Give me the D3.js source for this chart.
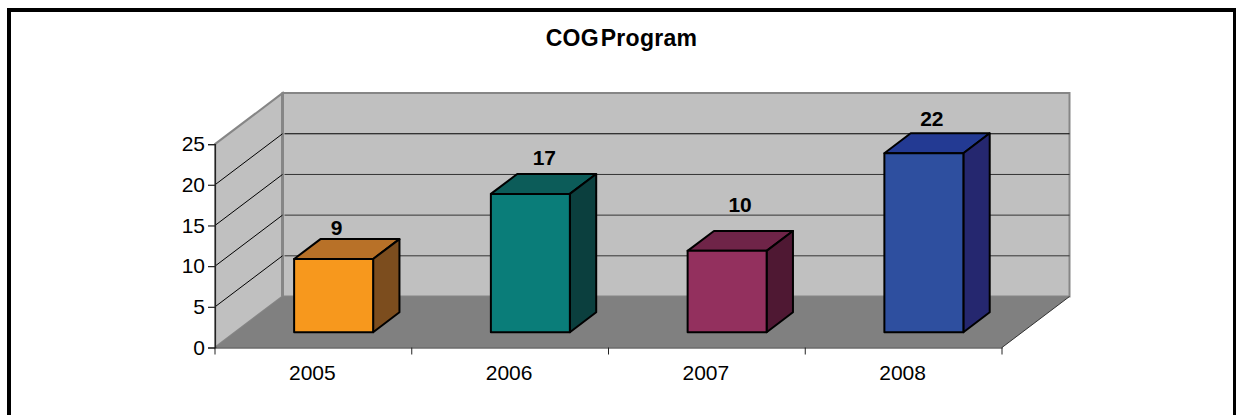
<!DOCTYPE html>
<html><head><meta charset="utf-8">
<script src="https://cdn.jsdelivr.net/npm/d3@7"></script>
<style>html,body{margin:0;padding:0;background:#fff}svg{display:block}text{font-family:"Liberation Sans",Arial,sans-serif;fill:#000}</style>
</head><body><svg id="c" width="1236" height="415"></svg>
<script>
const categories = ["2005","2006","2007","2008"];
const values = [9,17,10,22];
const yTicks = [0,5,10,15,20,25];
const frontColors = ["#F7981D","#0A7D79","#93305E","#2E4F9F"];
const topColors = ["#B87128","#0C5C59","#6F2448","#233A93"];
const sideColors = ["#7C4D1E","#0B3F3E","#4F1833","#25276F"];
const title = "COG Program";

const svg = d3.select("#c");
const x = d3.scaleBand().domain(categories).range([215,1002]);
const y = d3.scaleLinear().domain([0,25]).range([347.5,144.1]);
const depthX = d3.scaleLinear().domain([0,1]).range([0,67.5]);
const depthY = d3.scaleLinear().domain([0,1]).range([0,-51]);
const P = (px,v,d)=>[px+depthX(d), y(v)+depthY(d)];
const poly = pts => "M"+pts.map(p=>p.join(",")).join("L")+"Z";
const X0=215,X1=1002;

// frame
svg.append("path").attr("d","M9,415V10H1235V415").attr("fill","none").attr("stroke","#000").attr("stroke-width",4);

// walls
svg.append("path").attr("d",poly([P(X0,0,0),P(X0,25,0),P(X0,25,1),P(X0,0,1)])).attr("fill","#C0C0C0").attr("stroke","#868686").attr("stroke-width",2);
svg.append("path").attr("d",poly([P(X0,0,1),P(X0,25,1),P(X1,25,1),P(X1,0,1)])).attr("fill","#C0C0C0").attr("stroke","#868686").attr("stroke-width",2);
svg.append("path").attr("d",`M${P(X0,0,1)}L${P(X0,25,1)}`).attr("stroke","#868686").attr("stroke-width",3);
// gridlines
yTicks.filter(t=>t>0&&t<25).forEach(t=>{
  const a=P(X0,t,0),b=P(X0,t,1),c=P(X1,t,1);
  svg.append("path").attr("d",`M${a}L${b}`).attr("fill","none").attr("stroke","#000").attr("stroke-width",1);
  svg.append("path").attr("d",`M${[b[0]+2,b[1]]}L${c}`).attr("fill","none").attr("stroke",t===20?"#000":"#333").attr("stroke-width",1);
});
// floor
svg.append("path").attr("d",poly([P(X0,0,0),P(X1,0,0),P(X1,0,1),P(X0,0,1)])).attr("fill","#808080");
svg.append("path").attr("d",`M${P(X1,0,0)}L${P(X1,0,1)}`).attr("stroke","#333").attr("stroke-width",1);

// axes
const yAxis = d3.axisLeft(y).tickValues(yTicks).tickSize(7).tickPadding(3).tickFormat(d3.format("d"));
const gy = svg.append("g").attr("transform",`translate(${X0},0)`).call(yAxis);
const xAxis = d3.axisBottom(x).tickSize(0).tickPadding(17);
const gx = svg.append("g").attr("transform",`translate(0,${y(0)})`).call(xAxis);
gx.selectAll("text").attr("dx",-1).attr("dy","0.75em");
[gy,gx].forEach(g=>{g.selectAll("text").style("font-size","21px").style("font-family",'"Liberation Sans"').attr("fill","#111");g.selectAll(".domain,line").attr("stroke","#222").attr("stroke-width",1.2);});
gx.selectAll(".edge").data(d3.range(5)).enter().append("line").attr("class","edge")
  .attr("x1",i=>X0+i*x.step()).attr("x2",i=>X0+i*x.step()).attr("y1",0).attr("y2",7).attr("stroke","#222").attr("stroke-width",1);

// bars
const dF=0.3,dB=0.69,bw=79;
const labelNudge = [[3,-4],[14,-9],[13,-19],[8,-7]];
categories.forEach((c,i)=>{
  const v=values[i], l=x(c)+x.bandwidth()/2-bw/2, r=l+bw;
  const g=svg.append("g").attr("stroke","#000").attr("stroke-width",2).attr("stroke-linejoin","round");
  g.append("path").attr("d",poly([P(l,v,dF),P(r,v,dF),P(r,v,dB),P(l,v,dB)])).attr("fill",topColors[i]);
  g.append("path").attr("d",poly([P(r,0,dF),P(r,v,dF),P(r,v,dB),P(r,0,dB)])).attr("fill",sideColors[i]);
  g.append("path").attr("d",poly([P(l,0,dF),P(r,0,dF),P(r,v,dF),P(l,v,dF)])).attr("fill",frontColors[i]);
  const fp=P((l+r)/2,v,dF), tp=P((l+r)/2,v,dB);
  svg.append("text").attr("x",fp[0]+labelNudge[i][0]).attr("y",tp[1]+labelNudge[i][1]).attr("text-anchor","middle")
    .style("font-size","21px").style("font-weight","bold").text(v);
});

svg.append("text").attr("x",621.5).attr("y",46).attr("text-anchor","middle")
  .style("font-size","23px").style("font-weight","bold").style("letter-spacing","0.3px").style("word-spacing","-5px").text(title);
</script></body></html>
